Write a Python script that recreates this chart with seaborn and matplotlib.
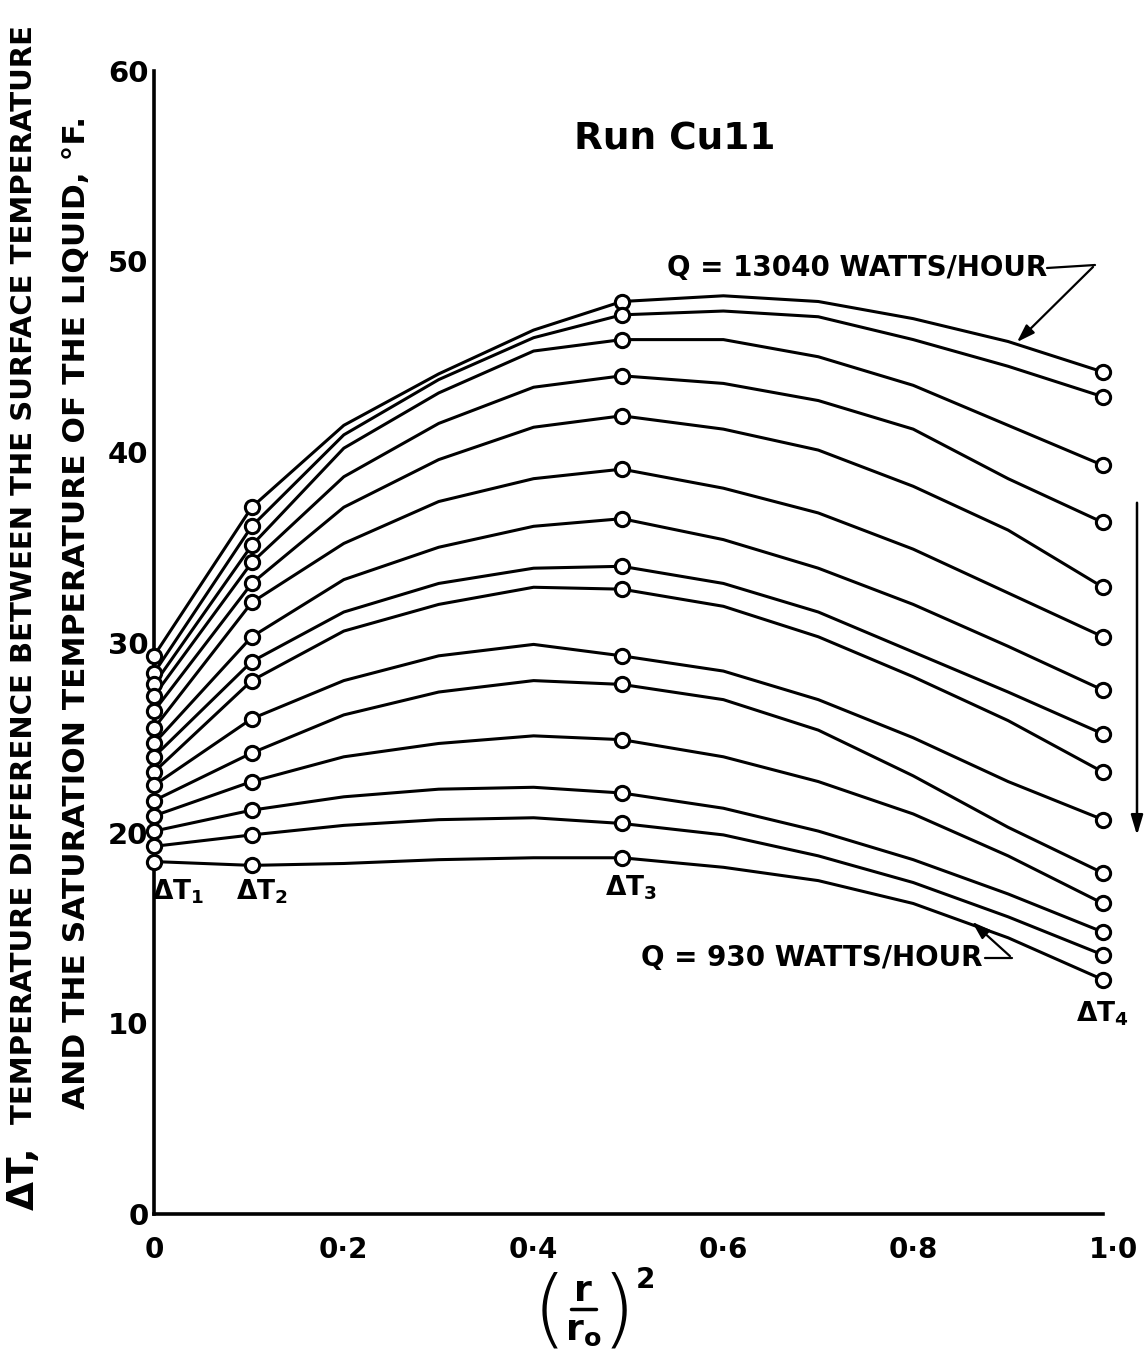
import numpy as np
import pandas as pd
import matplotlib
matplotlib.use("Agg")
import matplotlib.pyplot as plt
from matplotlib.transforms import ScaledTranslation
import seaborn as sns

# Thermocouple positions, (r/r0)^2
positions = [0.0, 0.103, 0.493, 1.0]

# Measured ΔT (°F) at each thermocouple, highest heat input (13040 W/h) first,
# lowest (930 W/h) last
dt_1 = [29.3, 28.4, 27.8, 27.2, 26.4, 25.5, 24.7, 24.0, 23.2, 22.5, 21.7, 20.9, 20.1, 19.3, 18.5]
dt_2 = [37.1, 36.1, 35.1, 34.2, 33.1, 32.1, 30.3, 29.0, 28.0, 26.0, 24.2, 22.7, 21.2, 19.9, 18.3]
dt_3 = [47.9, 47.2, 45.9, 44.0, 41.9, 39.1, 36.5, 34.0, 32.8, 29.3, 27.8, 24.9, 22.1, 20.5, 18.7]
dt_4 = [44.2, 42.9, 39.3, 36.3, 32.9, 30.3, 27.5, 25.2, 23.2, 20.7, 17.9, 16.3, 14.8, 13.6, 12.3]

# Faired curves between the thermocouples
fair_x = [0.2, 0.3, 0.4, 0.6, 0.7, 0.8, 0.9]
fair_02 = [41.4, 40.9, 40.2, 38.7, 37.1, 35.2, 33.3, 31.6, 30.6, 28.0, 26.2, 24.0, 21.9, 20.4, 18.4]
fair_03 = [44.1, 43.8, 43.1, 41.5, 39.6, 37.4, 35.0, 33.1, 32.0, 29.3, 27.4, 24.7, 22.3, 20.7, 18.6]
fair_04 = [46.4, 46.0, 45.3, 43.4, 41.3, 38.6, 36.1, 33.9, 32.9, 29.9, 28.0, 25.1, 22.4, 20.8, 18.7]
fair_06 = [48.2, 47.4, 45.9, 43.6, 41.2, 38.1, 35.4, 33.1, 31.9, 28.5, 27.0, 24.0, 21.3, 19.9, 18.2]
fair_07 = [47.9, 47.1, 45.0, 42.7, 40.1, 36.8, 33.9, 31.6, 30.3, 27.0, 25.4, 22.7, 20.1, 18.8, 17.5]
fair_08 = [47.0, 45.9, 43.5, 41.2, 38.2, 34.9, 32.0, 29.5, 28.2, 25.0, 23.0, 21.0, 18.6, 17.4, 16.3]
fair_09 = [45.8, 44.5, 41.4, 38.6, 35.9, 32.6, 29.8, 27.4, 25.9, 22.7, 20.3, 18.8, 16.8, 15.6, 14.5]

x_ticks = [0.0, 0.2, 0.4, 0.6, 0.8, 1.0]
x_tick_labels = ["0", "0·2", "0·4", "0·6", "0·8", "1·0"]
y_ticks = [0, 10, 20, 30, 40, 50, 60]

n_curves = len(dt_1)
measured = pd.DataFrame({
    "curve": np.repeat(np.arange(n_curves), len(positions)),
    "x": np.tile(positions, n_curves),
    "dT": np.column_stack([dt_1, dt_2, dt_3, dt_4]).ravel(),
})
faired = pd.DataFrame({
    "curve": np.repeat(np.arange(n_curves), len(fair_x)),
    "x": np.tile(fair_x, n_curves),
    "dT": np.column_stack([fair_02, fair_03, fair_04, fair_06,
                           fair_07, fair_08, fair_09]).ravel(),
})
curves = pd.concat([measured, faired]).sort_values(["curve", "x"]).reset_index(drop=True)

sns.set_theme(style="white")
plt.rcParams["font.family"] = ["DejaVu Sans"]
plt.rcParams["font.weight"] = "bold"
plt.rcParams["mathtext.default"] = "bf"
for key in ("text.color", "axes.labelcolor", "xtick.color", "ytick.color", "axes.edgecolor"):
    plt.rcParams[key] = "black"

W, H = 1147, 1367
fig = plt.figure(figsize=(W / 100, H / 100), dpi=100)
fig.patch.set_facecolor("white")
x0_px, x1_px, y0_px, y1_px = 154, 1103, 1214, 71
ax = fig.add_axes([x0_px / W, 1 - y0_px / H, (x1_px - x0_px) / W, (y0_px - y1_px) / H])
ax.set_facecolor("white")

sns.lineplot(data=curves, x="x", y="dT", units="curve", estimator=None, sort=True,
             color="black", linewidth=2.2, ax=ax, legend=False,
             solid_joinstyle="round", solid_capstyle="round")
sns.scatterplot(data=measured, x="x", y="dT", marker="o", s=105, color="white",
                edgecolor="black", linewidth=2.2, ax=ax, legend=False,
                zorder=5, clip_on=False)

ax.set_xlim(0, 1.0)
ax.set_ylim(0, 60)
ax.set_xlabel("")
ax.set_ylabel("")
for side in ("top", "right"):
    ax.spines[side].set_visible(False)
for side in ("left", "bottom"):
    ax.spines[side].set_color("black")
    ax.spines[side].set_linewidth(2.6)

ax.set_xticks(x_ticks)
ax.set_xticklabels(x_tick_labels)
ax.set_yticks(y_ticks)
ax.set_yticklabels([str(v) for v in y_ticks])
ax.tick_params(axis="x", direction="in", length=24, width=1.8, colors="black",
               labelsize=20, pad=16)
ax.tick_params(axis="y", direction="in", length=27, width=1.8, colors="black",
               labelsize=21, pad=4)
for lab in ax.get_xticklabels() + ax.get_yticklabels():
    lab.set_fontweight("bold")
# the "1·0" label sits a little to the right of its tick
last = ax.get_xticklabels()[-1]
last.set_transform(last.get_transform() + ScaledTranslation(0.11, 0, fig.dpi_scale_trans))


def px(xp, yp):
    """Pixel position on the page -> data coordinates of the axes."""
    return (xp - x0_px) / (x1_px - x0_px), (y0_px - yp) / (y0_px - y1_px) * 60


def fig_xy(xp, yp):
    return xp / W, 1 - yp / H


# Title
fig.text(*fig_xy(675, 140), "Run Cu11", ha="center", va="center",
         fontsize=27, fontweight="bold")

arrow_style = dict(arrowstyle="-|>,head_length=0.9,head_width=0.3",
                   color="black", lw=1.6)

# Heat-input labels with leaders
tx, ty = px(667, 268)
ax.text(tx, ty, "Q = 13040 WATTS/HOUR", ha="left", va="center",
        fontsize=20, fontweight="bold", clip_on=False)
a, b = px(1047, 268)
c, d = px(1095, 265)
ax.plot([a, c], [b, d], color="black", lw=1.6, clip_on=False)
tipx, tipy = px(1015, 344)
ax.annotate("", xy=(tipx, tipy), xytext=(c, d), arrowprops=arrow_style,
            annotation_clip=False)

tx, ty = px(641, 958)
ax.text(tx, ty, "Q = 930 WATTS/HOUR", ha="left", va="center",
        fontsize=20, fontweight="bold", clip_on=False)
a, b = px(985, 958)
c, d = px(1012, 958)
ax.plot([a, c], [b, d], color="black", lw=1.6, clip_on=False)
tipx, tipy = px(970, 920)
ax.annotate("", xy=(tipx, tipy), xytext=(c, d), arrowprops=arrow_style,
            annotation_clip=False)

# Direction of decreasing heat input
a, b = px(1137, 500)
c, d = px(1137, 838)
ax.annotate("", xy=(c, d), xytext=(a, b),
            arrowprops=dict(arrowstyle="-|>,head_length=1.0,head_width=0.3",
                            color="black", lw=1.8), annotation_clip=False)

# Thermocouple labels
for label, (xp, yp) in [(r"$\Delta T_1$", (178, 892)), (r"$\Delta T_2$", (262, 892)),
                        (r"$\Delta T_3$", (631, 888)), (r"$\Delta T_4$", (1102, 1014))]:
    lx, ly = px(xp, yp)
    ax.text(lx, ly, label, ha="center", va="center", fontsize=19,
            fontweight="bold", clip_on=False)

# Axis titles
fig.text(*fig_xy(24, 1178), "ΔT,", rotation=90, ha="center", va="center",
         fontsize=27, fontweight="bold")
fig.text(*fig_xy(24, 574),
         "TEMPERATURE DIFFERENCE BETWEEN THE SURFACE TEMPERATURE",
         rotation=90, ha="center", va="center", fontsize=21, fontweight="bold")
fig.text(*fig_xy(77, 612),
         "AND THE SATURATION TEMPERATURE OF THE LIQUID, °F.",
         rotation=90, ha="center", va="center", fontsize=22.5, fontweight="bold")

# x-axis title: (r / r_o) squared
fig.text(*fig_xy(549, 1313), "(", ha="center", va="center", fontsize=62,
         fontweight="light")
fig.text(*fig_xy(618, 1313), ")", ha="center", va="center", fontsize=62,
         fontweight="light")
fig.text(*fig_xy(583, 1291), "r", ha="center", va="center", fontsize=26,
         fontweight="bold")
fig.add_artist(plt.Line2D([571 / W, 596 / W], [1 - 1309 / H, 1 - 1309 / H],
                          color="black", lw=2.5))
fig.text(*fig_xy(583, 1331), r"$r_\mathbf{o}$", ha="center", va="center",
         fontsize=26)
fig.text(*fig_xy(645, 1280), "2", ha="center", va="center", fontsize=20,
         fontweight="bold")

fig.savefig("out.png", dpi=100, facecolor="white")
